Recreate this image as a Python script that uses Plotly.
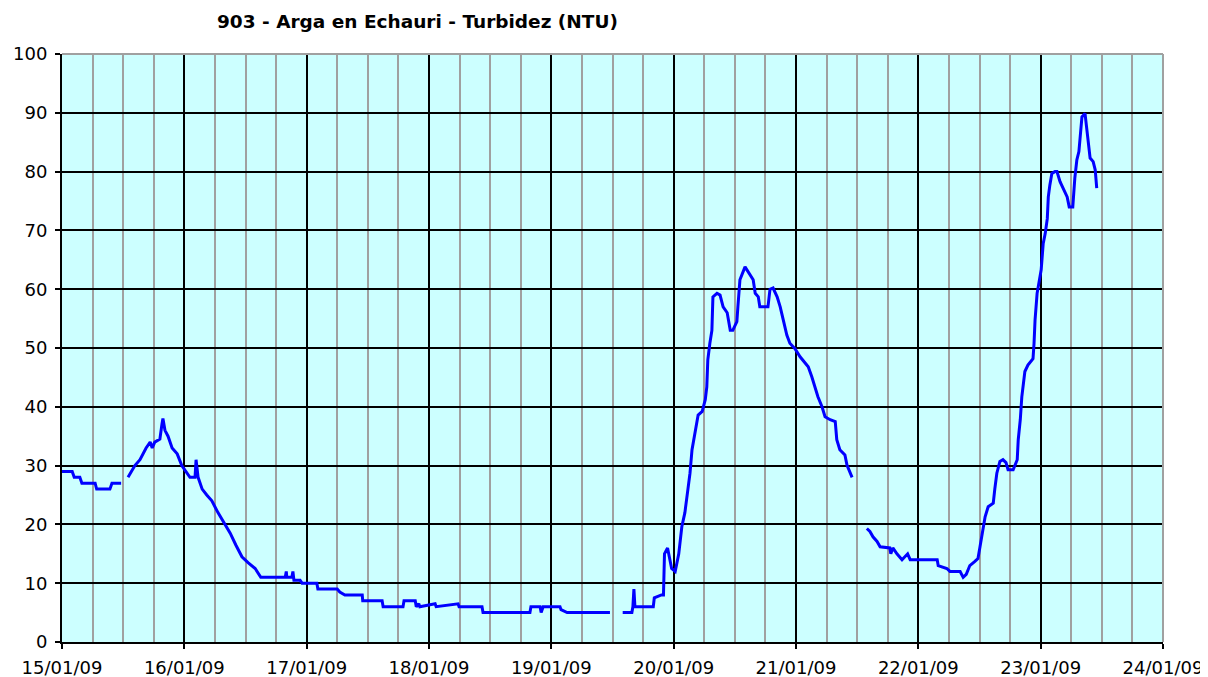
import pandas as pd
import plotly.graph_objects as go

# Hours elapsed since 15/01/09 00:00 (None rows mark gaps in the record)
hours = [
    0, 2, 2.4, 3.5, 3.9, 6.5, 6.8, 9.4, 9.8, 11.6,
    12.3,
    12.95, 13.7, 14.3, 15.3, 15.9, 16.5, 17.3, 17.7, 18.2, 19.2, 19.6, 19.8, 20.2, 20.8,
    21.6, 22.6, 23.5, 24.3, 25.1, 26.1, 26.3, 26.7, 27.5, 28.4, 29.4, 30.6, 32, 33, 34.1,
    35.3, 36.5, 37.9, 39, 43.8, 44, 44.1, 45.1, 45.3, 45.5, 46.7, 47.1, 50, 50.2, 54,
    54.5, 55.5, 58.9, 59, 62.8, 63, 66.9, 67.1, 69.3, 69.5, 70, 70.2, 73.2, 73.4, 77.7,
    77.9, 82.4, 82.6, 91.8, 92, 93.8, 94, 94.4, 97.7, 97.9, 99.1, 107.5,
    108.5,
    110, 111.8, 112, 112.2, 112.4, 116, 116.2, 117.6, 118, 118.2, 118.8, 119.6, 120.3,
    121, 121.6, 122.2, 122.8, 123.2, 123.6, 124.2, 124.8, 125.6, 126.2, 126.5, 126.7,
    127.1, 127.5, 127.7, 128.5, 129.1, 129.7, 130.5, 131.1, 131.6, 132.4, 132.6, 133,
    134, 134.6, 135.6, 136, 136.6, 136.9, 138.5, 138.9, 139.5, 140.3, 140.9, 141.5,
    142.2, 142.8, 143.8, 144.8, 145.8, 146.4, 147.1, 147.7, 148.3, 149.1, 149.7, 150.7,
    151.7, 152, 152.6, 153.6, 154, 155,
    156.5,
    157.9, 158.5, 159.1, 159.9, 160.5, 162.4, 162.6, 163, 163.8, 164.3, 164.8, 165.9,
    166.4, 171.7, 171.9, 173.6, 174.2, 176.2, 176.8, 177.4, 178.1, 179.1, 179.7, 180.1,
    180.7, 181.1, 181.7, 182.7, 183, 183.4, 184, 184.6, 185.2, 185.6, 186.6, 187.4,
    187.6, 188, 188.3, 188.5, 188.9, 189.5, 190.5, 190.7, 190.9, 191.3, 191.7, 192.1,
    192.5, 192.9, 193.3, 193.5, 193.8, 194.2, 194.8, 195.2, 195.8, 196.4, 197.2, 197.6,
    198.3, 198.7, 199.1, 199.5, 199.8, 200.1, 200.7, 201.1, 201.3, 201.7, 202.3, 202.7,
    203,
]

turbidity = [
    29, 29, 28, 28, 27, 27, 26, 26, 27, 27,
    None,
    28, 29, 30, 31, 32, 33, 34, 33, 34, 34.5, 37, 38, 36, 35,
    33, 32, 30, 29, 28, 28, 31, 28, 26, 25, 24, 22, 20, 18.5, 16.5,
    14.5, 13.5, 12.5, 11, 11, 12, 11, 11, 12, 10.5, 10.5, 10, 10, 9, 9,
    8.5, 8, 8, 7, 7, 6, 6, 7, 7, 6, 6.5, 6, 6.5, 6, 6.5,
    6, 6, 5, 5, 6, 6, 5, 6, 6, 5.5, 5, 5,
    None,
    5, 5, 6, 9, 6, 6, 7.5, 8, 8, 15, 16, 12.5, 12,
    15, 19.6, 22, 26, 28.7, 32.7, 35.5, 38.6, 39.2, 41.2, 43.4, 48,
    50.8, 53, 58.7, 59.3, 59, 57, 56, 53, 53, 54.5, 57, 61.6,
    63.8, 63, 61.6, 59.3, 58.7, 57, 57, 60, 60.2, 58.7, 57, 54.8,
    52.2, 50.8, 49.9, 48.5, 47.4, 46.8, 45.1, 43.4, 41.7, 40, 38.3, 37.8,
    37.5, 34.4, 32.7, 31.8, 30.1, 28,
    None,
    19.3, 18.8, 17.9, 17.1, 16.2, 16, 15, 16, 15, 14.5, 14, 15,
    14, 14, 13, 12.5, 12, 12, 11, 11.5, 13, 13.7, 14.2, 16.2,
    19, 21.3, 23, 23.6, 26, 28.7, 30.7, 31, 30.5, 29.3, 29.3, 31,
    34.4, 37.8, 41.7, 43, 46, 47.1, 48.2, 50.8, 54.8, 59.3, 61, 63.3,
    67.8, 69.5, 72, 75.7, 77.7, 79.7, 80, 80, 78.3, 77.2, 75.7, 74,
    74, 78.9, 82, 83.4, 87.1, 89.3, 89.9, 87.1, 84.8, 82.3, 81.7, 80.3,
    77.2,
]

start = pd.Timestamp("2009-01-15")
times = [start + pd.Timedelta(hours=h) for h in hours]

title_text = "903 - Arga en Echauri - Turbidez (NTU)"
x_start, x_end = "2009-01-15", "2009-01-24"
y_ticks = list(range(0, 101, 10))

fig = go.Figure()
fig.add_trace(go.Scatter(
    x=times, y=turbidity, mode="lines",
    line=dict(color="#0000FF", width=3),
    connectgaps=False, showlegend=False, hoverinfo="x+y",
))

# The page body adds an 8px offset, so the figure is sized 8px smaller.
FW, FH = 1200, 669
font_family = "DejaVu Sans"
fig.update_layout(
    width=FW, height=FH,
    margin=dict(l=54, r=45, t=46, b=35, autoexpand=False),
    paper_bgcolor="white",
    plot_bgcolor="#CCFFFF",
    title=dict(text=f"<b>{title_text}</b>", x=209/FW, xanchor="left", xref="container",
               y=1 - 14/FH, yanchor="middle", yref="container",
               font=dict(family=font_family, size=18.5, color="black")),
    font=dict(family=font_family, size=18, color="black"),
)
fig.update_xaxes(
    range=[x_start, x_end], type="date", automargin=False,
    tickformat="%d/%m/%y", dtick=86400000, tick0=x_start,
    ticks="outside", ticklen=5, tickwidth=1.5, tickcolor="black",
    ticklabelstandoff=3,
    showgrid=True, gridcolor="black", gridwidth=1.5,
    minor=dict(dtick=6*3600000, showgrid=True, gridcolor="#A0A0A0", gridwidth=2, ticks=""),
    showline=True, linecolor="black", linewidth=2,
    zeroline=False, tickfont=dict(size=18),
)
fig.update_yaxes(
    range=[0, 100], tickvals=y_ticks, automargin=False,
    ticks="outside", ticklen=5, tickwidth=1.5, tickcolor="black",
    ticklabelstandoff=4,
    showgrid=True, gridcolor="black", gridwidth=1.5,
    showline=True, linecolor="black", linewidth=2,
    zeroline=False, tickfont=dict(size=18),
)
# gray border on top and right edges
fig.add_shape(type="line", xref="paper", yref="paper", x0=0, x1=1, y0=1, y1=1,
              line=dict(color="#A0A0A0", width=2), layer="above")
fig.add_shape(type="line", xref="paper", yref="paper", x0=1, x1=1, y0=0, y1=1,
              line=dict(color="#A0A0A0", width=2), layer="above")

fig.write_html("out.html")
